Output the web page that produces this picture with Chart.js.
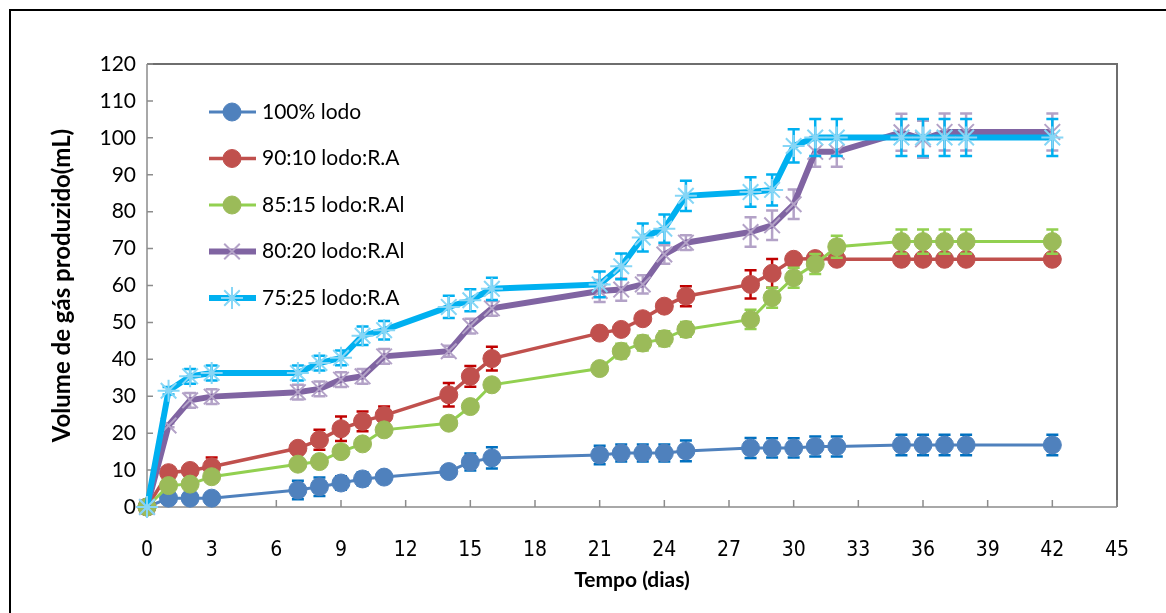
<!DOCTYPE html>
<html><head><meta charset="utf-8">
<script src="https://cdn.jsdelivr.net/npm/chart.js@4.4.1/dist/chart.umd.min.js"></script>
<style>html,body{margin:0;padding:0;background:#fff;}#wrap{width:1166px;height:613px;}</style>
</head><body><div id="wrap"><canvas id="c" width="1166" height="613"></canvas></div>
<script>
const days = [0,1,2,3,7,8,9,10,11,14,15,16,21,22,23,24,25,28,29,30,31,32,35,36,37,38,42];
const seriesNames = ['100% lodo','90:10 lodo:R.A','85:15 lodo:R.Al','80:20 lodo:R.Al','75:25 lodo:R.A'];
const lodo100    = [0,2.4,2.4,2.4,4.6,5.5,6.5,7.6,8.1,9.6,12.2,13.3,14.1,14.6,14.6,14.6,15.2,16,16,16,16.4,16.4,16.8,16.8,16.8,16.8,16.8];
const lodo100Err = [0,0.5,0.5,0.5,2.5,2.5,1.8,1.8,1.5,0.5,2.3,2.9,2.5,2.3,2.3,2.3,2.8,2.7,2.6,2.6,2.7,2.7,2.8,2.8,2.8,2.8,2.8];
const mix9010    = [0,9.3,9.9,10.9,15.9,18.2,21.2,23.2,24.8,30.4,35.4,40.2,47.1,48.1,51.0,54.4,57.1,60.3,63.3,67.1,67.3,67.1,67.1,67.1,67.1,67.1,67.1];
const mix9010Err = [0,0.5,0.5,2.5,0.8,2.7,3.3,2.7,2.4,3.2,2.8,3.2,1,1,1,1.5,2.7,3.8,3.9,1,1,1,1,1,1,1,1];
const mix8515    = [0,5.8,6.2,8.2,11.6,12.3,15.0,17.1,20.9,22.7,27.2,33.1,37.5,42.2,44.4,45.6,48.1,50.8,56.7,62.1,65.8,70.5,71.9,71.9,71.9,71.9,71.9];
const mix8515Err = [0,0.5,0.5,0.5,0.5,0.5,0.5,0.5,0.5,0.5,0.5,0.5,0.5,2,2,2,2,2.6,2.7,2.7,2.7,3,3.3,3.3,3.3,3.3,3.3];
const mix8020    = [0,22.1,28.9,29.9,31.1,32.0,34.5,35.4,40.8,42.2,49.0,53.8,58.5,58.9,60.3,68.4,71.6,74.5,76.3,82,96.2,96.2,101.5,99.6,101.6,101.6,101.6];
const mix8020Err = [0,0.5,2,2,2,2,2,2,2,1.5,2,2,3,3,2.5,2.5,2,4,4,4,4,4,5,5,5,5,5];
const mix7525    = [0,31.5,35.4,36.3,36.3,39.0,40.4,46.4,47.9,54.2,56.0,59.1,60.3,65.2,73.0,75.4,84.3,85.3,85.9,97.8,100.1,100.1,100.1,100.1,100.1,100.1,100.1];
const mix7525Err = [0,1,2,2,2,2,2,2.5,2.5,3,3,3,3.5,3.5,3.8,3.8,4.1,4,4.2,4.5,5,5,5,5,5,5,5];
const xTicksMax = 45, xStep = 3, yMax = 120, yStep = 10;

const styles = [
  {line:'#4f81bd', pt:'#4f81bd', err:'#0070c0', lw:3,   ps:'circle',   r:9,  pbw:1},
  {line:'#c0504d', pt:'#c0504d', err:'#c00000', lw:3.5, ps:'circle',   r:9,  pbw:1},
  {line:'#92d050', pt:'#9bbb59', err:'#92d050', lw:3,   ps:'circle',   r:9,  pbw:1},
  {line:'#8064a2', pt:'#b3a2c7', err:'#b3a2c7', lw:6,   ps:'crossRot', r:11, pbw:2},
  {line:'#00b0f0', pt:'#86d6f6', err:'#00b0f0', lw:6,   ps:'star',     r:11, pbw:2}
];
const values = [lodo100, mix9010, mix8515, mix8020, mix7525];
const errs = [lodo100Err, mix9010Err, mix8515Err, mix8020Err, mix7525Err];

const datasets = values.map((v,i)=>({
  label: seriesNames[i],
  data: days.map((d,j)=>({x:d, y:v[j]})),
  errors: errs[i],
  borderColor: styles[i].line,
  borderWidth: styles[i].lw,
  backgroundColor: styles[i].pt,
  pointBackgroundColor: styles[i].pt,
  pointBorderColor: styles[i].pt,
  pointBorderWidth: styles[i].pbw,
  pointStyle: styles[i].ps,
  pointRadius: styles[i].r,
  tension: 0,
  fill: false,
  clip: false,
  order: 5 - i
}));

const deco = {
  id:'deco',
  beforeDatasetsDraw(chart){
    const {ctx, chartArea:a, scales:{x,y}} = chart;
    ctx.save();
    ctx.strokeStyle='#000'; ctx.lineWidth=2;
    ctx.beginPath(); ctx.moveTo(10,613); ctx.lineTo(10,10); ctx.lineTo(1166,10); ctx.stroke();
    ctx.strokeStyle='#6e6e6e'; ctx.lineWidth=2;
    ctx.beginPath(); ctx.moveTo(a.left,a.top); ctx.lineTo(a.right,a.top); ctx.lineTo(a.right,a.bottom); ctx.stroke();
    ctx.strokeStyle='#8c8c8c'; ctx.lineWidth=1.5;
    ctx.beginPath(); ctx.moveTo(a.left,a.top); ctx.lineTo(a.left,a.bottom); ctx.lineTo(a.right,a.bottom); ctx.stroke();
    ctx.beginPath();
    y.ticks.forEach(t=>{const py=y.getPixelForValue(t.value); ctx.moveTo(a.left,py); ctx.lineTo(a.left+6,py);});
    x.ticks.forEach(t=>{const px=x.getPixelForValue(t.value); ctx.moveTo(px,a.bottom); ctx.lineTo(px,a.bottom-7);});
    ctx.stroke();
    ctx.restore();
  },
  beforeDatasetDraw(chart,args){
    const ds = chart.data.datasets[args.index];
    const {ctx, scales:{x,y}} = chart;
    const st = styles[args.index];
    ctx.save();
    ctx.strokeStyle = st.err; ctx.lineWidth = 2.5;
    ds.data.forEach((p,j)=>{
      const e = ds.errors[j]; if(!e) return;
      const px = x.getPixelForValue(p.x);
      const y1 = y.getPixelForValue(p.y+e), y2 = y.getPixelForValue(p.y-e);
      ctx.beginPath();
      ctx.moveTo(px,y1); ctx.lineTo(px,y2);
      ctx.moveTo(px-6,y1); ctx.lineTo(px+6,y1);
      ctx.moveTo(px-6,y2); ctx.lineTo(px+6,y2);
      ctx.stroke();
    });
    ctx.restore();
  },
  afterDraw(chart){
    const {ctx} = chart;
    ctx.save();
    chart.data.datasets.forEach((ds,i)=>{
      const st = styles[i];
      const cy = 112 + i*46.5;
      ctx.strokeStyle = st.line; ctx.lineWidth = st.lw;
      ctx.beginPath(); ctx.moveTo(209,cy); ctx.lineTo(256,cy); ctx.stroke();
      ctx.fillStyle = st.pt; ctx.strokeStyle = st.pt; ctx.lineWidth = st.pbw;
      Chart.helpers.drawPoint(ctx,{pointStyle:st.ps, radius:st.r, borderWidth:st.pbw, rotation:0},232,cy);
      ctx.fillStyle = '#000';
      ctx.font = '21px Lato';
      ctx.textAlign='left'; ctx.textBaseline='middle';
      ctx.fillText(ds.label, 262, cy);
    });
    ctx.restore();
  }
};

new Chart(document.getElementById('c'), {
  type:'line',
  data:{datasets},
  plugins:[deco],
  options:{
    responsive:false, animation:false,
    layout:{padding:{left:0, top:64, right:49, bottom:0}},
    plugins:{legend:{display:false}, tooltip:{enabled:false}},
    scales:{
      x:{type:'linear', min:0, max:xTicksMax,
        ticks:{stepSize:xStep, padding:31, color:'#000', font:{family:'"Liberation Sans Narrow","DejaVu Sans Condensed",Lato', size:21}},
        grid:{display:false, drawTicks:false}, border:{display:false},
        title:{display:true, text:'Tempo (dias)', color:'#000', padding:{bottom:20, top:0}, font:{family:'Lato', size:21, weight:'bold'}},
        afterFit(s){ s.height = 106; }
      },
      y:{min:0, max:yMax,
        ticks:{stepSize:yStep, padding:11, color:'#000', font:{family:'Lato', size:21}},
        grid:{display:false, drawTicks:false}, border:{display:false},
        title:{display:true, text:'Volume de gás produzido(mL)', color:'#000', padding:{top:48, bottom:0}, font:{family:'Lato', size:24, weight:'bold'}},
        afterFit(s){ s.width = 147; }
      }
    }
  }
});
</script></body></html>
